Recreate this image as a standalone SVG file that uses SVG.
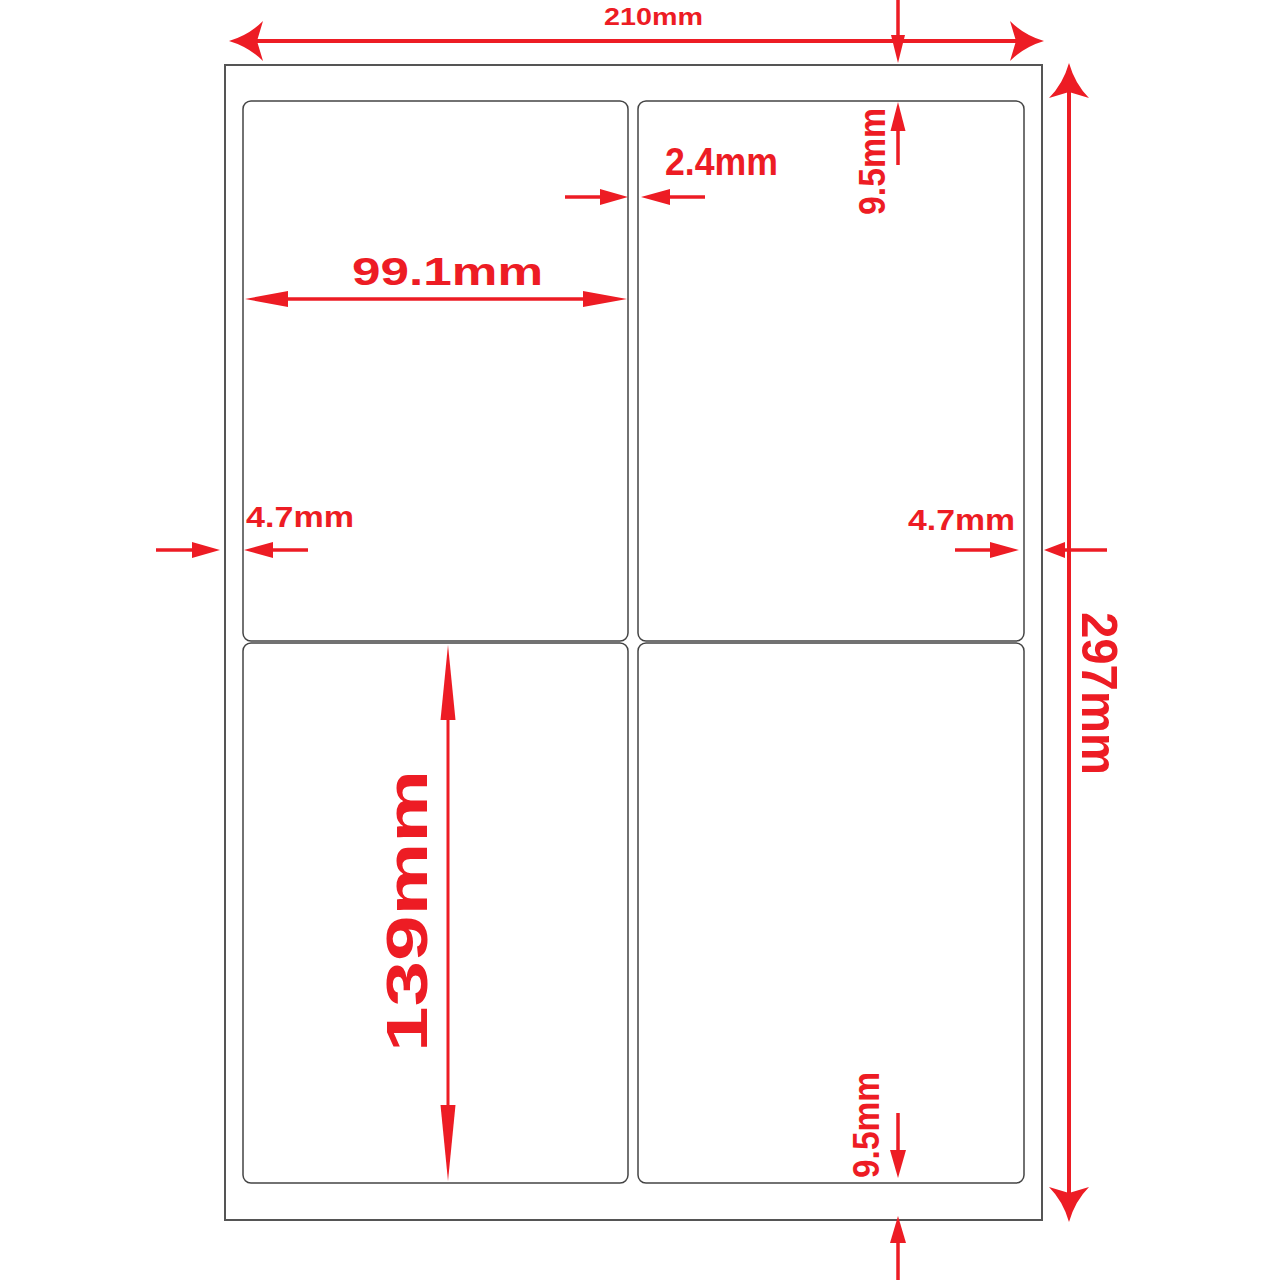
<svg xmlns="http://www.w3.org/2000/svg" width="1280" height="1280" viewBox="0 0 1280 1280">
<style>
.page{fill:#fff;stroke:#555;stroke-width:2}
.lbl{fill:#fff;stroke:#444;stroke-width:1.5}
.dl{stroke:#ed1c24;stroke-width:3.5;fill:none}
.dL{stroke:#ed1c24;stroke-width:4;fill:none}
.ah{fill:#ed1c24;stroke:none}
.t{font-family:"Liberation Sans",Arial,sans-serif;font-weight:bold;fill:#ed1c24}
</style>
<rect width="1280" height="1280" fill="#fff"/>
<g id="page"><rect class="page" x="225" y="65" width="817" height="1155"/></g>
<g id="label-1"><rect class="lbl" x="243" y="101" width="385" height="540" rx="8"/></g>
<g id="label-2"><rect class="lbl" x="638" y="101" width="386" height="540" rx="8"/></g>
<g id="label-3"><rect class="lbl" x="243" y="643" width="385" height="540" rx="8"/></g>
<g id="label-4"><rect class="lbl" x="638" y="643" width="386" height="540" rx="8"/></g>
<g id="connectors">
  <!-- 210mm -->
  <line class="dL" x1="250" y1="41" x2="1022" y2="41"/>
  <path class="ah" d="M229,41 Q249,35 263,21 L257,41 L263,61 Q249,47 229,41 Z"/>
  <path class="ah" d="M1044,41 Q1024,35 1010,21 L1016,41 L1010,61 Q1024,47 1044,41 Z"/>
  <!-- 297mm -->
  <line class="dL" x1="1069" y1="85" x2="1069" y2="1200"/>
  <path class="ah" d="M1069,63 Q1075,84 1089,98 L1069,92 L1049,98 Q1063,84 1069,63 Z"/>
  <path class="ah" d="M1069,1222 Q1075,1201 1089,1187 L1069,1193 L1049,1187 Q1063,1201 1069,1222 Z"/>
  <!-- top margin 9.5mm -->
  <line class="dl" x1="898" y1="0" x2="898" y2="40"/>
  <polygon class="ah" points="891,35 905,35 898,63"/>
  <line class="dl" x1="898" y1="165" x2="898" y2="126"/>
  <polygon class="ah" points="890.5,131 905.5,131 898,102"/>
  <!-- 2.4mm -->
  <line class="dl" x1="565" y1="197" x2="605" y2="197"/>
  <polygon class="ah" points="600,189 600,205 628,197"/>
  <line class="dl" x1="705" y1="197" x2="665" y2="197"/>
  <polygon class="ah" points="670,189 670,205 641,197"/>
  <!-- 99.1mm -->
  <line class="dl" x1="270" y1="299" x2="600" y2="299"/>
  <polygon class="ah" points="245,299 288,291 288,307"/>
  <polygon class="ah" points="627,299 583,291 583,307"/>
  <!-- left 4.7mm -->
  <line class="dl" x1="156" y1="550" x2="196" y2="550"/>
  <polygon class="ah" points="192,542 192,558 220,550"/>
  <line class="dl" x1="308" y1="550" x2="268" y2="550"/>
  <polygon class="ah" points="273,542 273,558 244,550"/>
  <!-- right 4.7mm -->
  <line class="dl" x1="955" y1="550" x2="995" y2="550"/>
  <polygon class="ah" points="990,542 990,558 1019,550"/>
  <line class="dl" x1="1107" y1="550" x2="1060" y2="550"/>
  <polygon class="ah" points="1065,542 1065,558 1044,550"/>
  <!-- 139mm -->
  <line class="dl" x1="448" y1="700" x2="448" y2="1125" style="stroke-width:3"/>
  <polygon class="ah" points="448,645 440.5,720 455.5,720"/>
  <polygon class="ah" points="448,1181 440.5,1105 455.5,1105"/>
  <!-- bottom margin 9.5mm -->
  <line class="dl" x1="898" y1="1113" x2="898" y2="1155"/>
  <polygon class="ah" points="890,1150 906,1150 898,1178"/>
  <line class="dl" x1="898" y1="1280" x2="898" y2="1238"/>
  <polygon class="ah" points="890,1243 906,1243 898,1216"/>
</g>
<g id="texts">
  <text class="t" x="604" y="25" font-size="24" textLength="99" lengthAdjust="spacingAndGlyphs">210mm</text>
  <text class="t" x="665" y="175" font-size="38" textLength="113" lengthAdjust="spacingAndGlyphs">2.4mm</text>
  <text class="t" x="352" y="285" font-size="38" textLength="191" lengthAdjust="spacingAndGlyphs">99.1mm</text>
  <text class="t" x="246" y="527" font-size="30" textLength="108" lengthAdjust="spacingAndGlyphs">4.7mm</text>
  <text class="t" x="908" y="530" font-size="30" textLength="107" lengthAdjust="spacingAndGlyphs">4.7mm</text>
  <text class="t" transform="translate(885,215) rotate(-90)" font-size="37" textLength="107" lengthAdjust="spacingAndGlyphs">9.5mm</text>
  <text class="t" transform="translate(879,1178) rotate(-90)" font-size="37" textLength="106" lengthAdjust="spacingAndGlyphs">9.5mm</text>
  <text class="t" transform="translate(427,1052) rotate(-90)" font-size="57" textLength="282" lengthAdjust="spacingAndGlyphs">139mm</text>
  <text class="t" transform="translate(1082,612) rotate(90)" font-size="50" textLength="163" lengthAdjust="spacingAndGlyphs">297mm</text>
</g>
</svg>
